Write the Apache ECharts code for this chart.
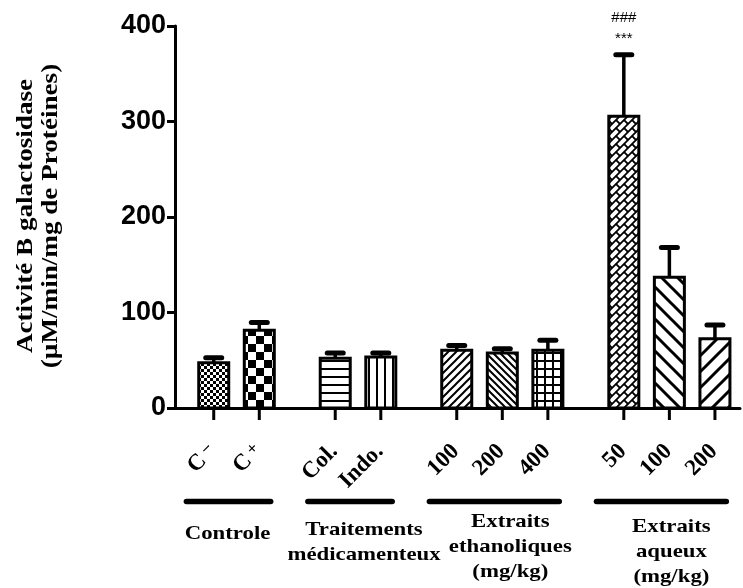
<!DOCTYPE html>
<html><head><meta charset="utf-8">
<script src="https://cdn.jsdelivr.net/npm/echarts@6/dist/echarts.min.js"></script>
<style>html,body{margin:0;padding:0;background:#fff}#c{width:743px;height:588px}</style>
</head><body><div id="c"></div>
<script>
// ---- data ----
const categories = ['C⁻', 'C⁺', 'Col.', 'Indo.', '100', '200', '400', '50', '100', '200'];
const groupOf    = [0, 0, 1, 1, 2, 2, 2, 3, 3, 3];
const groupNames = [
  ['Controle'],
  ['Traitements', 'médicamenteux'],
  ['Extraits', 'ethanoliques', '(mg/kg)'],
  ['Extraits', 'aqueux', '(mg/kg)']
];
const means   = [47.5, 81.5, 52, 53.5, 60.5, 57.5, 60.5, 305.5, 137, 72.5];
const errors  = [5, 8, 5.5, 4, 5, 4.5, 10.5, 64.5, 31, 14.5];
const sigStars = ['', '', '', '', '', '', '', '***', '', ''];
const sigHash  = ['', '', '', '', '', '', '', '###', '', ''];
const yTitle = ['Activité B galactosidase', '(µM/min/mg de Protéines)'];
const yMin = 0, yMax = 400, yStep = 100;

// ---- layout constants (styling) ----
const GROUP_GAP = 2 / 3;
const groupLabelShift = [[-9, 8], [6, 4], [8, -4], [2, 1]];
const pos = categories.map((c, i) => i + groupOf[i] * GROUP_GAP);

// ---- patterns ----
function makeTile(size, draw) {
  const c = document.createElement('canvas');
  c.width = c.height = size;
  const g = c.getContext('2d');
  g.fillStyle = '#fff'; g.fillRect(0, 0, size, size);
  g.fillStyle = '#000'; g.strokeStyle = '#000';
  draw(g, size);
  return c;
}
function diagUp(g, T, w) {
  g.lineWidth = w; g.beginPath();
  [0, T, 2 * T].forEach(c => { g.moveTo(c + 3, -3); g.lineTo(-3, c + 3); });
  g.stroke();
}
function diagDown(g, T, w) {
  g.lineWidth = w; g.beginPath();
  [-T, 0, T].forEach(c => { g.moveTo(c - 3, -3); g.lineTo(c + T + 3, T + 3); });
  g.stroke();
}
const patterns = [
  makeTile(6, g => { g.fillRect(0, 0, 3, 3); g.fillRect(3, 3, 3, 3); }),
  makeTile(16, g => { g.fillRect(0, 0, 8, 8); g.fillRect(8, 8, 8, 8); }),
  makeTile(8, g => { g.fillRect(0, 0, 8, 2); }),
  makeTile(8, g => { g.fillRect(0, 0, 2, 8); }),
  makeTile(8, (g, T) => diagUp(g, T, 2)),
  makeTile(7, (g, T) => diagDown(g, T, 2)),
  makeTile(8, g => { g.fillRect(0, 0, 8, 2); g.fillRect(0, 0, 2, 8); }),
  makeTile(8, (g, T) => {
    diagUp(g, T, 1.8);
    g.lineWidth = 1.8; g.beginPath();
    [-T, 0, T].forEach(dx => [-T, 0, T].forEach(dy => { g.moveTo(dx, dy); g.lineTo(dx + T / 2, dy + T / 2); }));
    g.stroke();
  }),
  makeTile(16, (g, T) => diagDown(g, T, 3)),
  makeTile(16, (g, T) => diagUp(g, T, 3))
];

const SERIF = '"Liberation Serif", "Times New Roman", serif';
const LABFONT = 'bold 23px ' + SERIF;

function labelStyle(s) {
  const m = s.match(/^(.*?)([⁻⁺])$/);
  if (!m) return { text: s, font: LABFONT };
  return {
    text: '{b|' + m[1] + '}{s|' + (m[2] === '⁻' ? '−' : '+') + '}',
    font: LABFONT,
    rich: {
      b: { font: LABFONT, fill: '#000' },
      s: { font: 'bold 17px ' + SERIF, fill: '#000', verticalAlign: 'top', padding: [0, 0, 0, 4] }
    }
  };
}

function renderBar(params, api) {
  const i = api.value(3);
  const x = api.value(0), m = api.value(1), e = api.value(2);
  const b = api.coord([x, 0]), t = api.coord([x, m]), c = api.coord([x, m + e]);
  const lab = labelStyle(categories[i]);
  const ch = [
    { type: 'line', shape: { x1: t[0], y1: t[1], x2: c[0], y2: c[1] }, style: { stroke: '#000', lineWidth: 3.5 } },
    { type: 'line', shape: { x1: c[0] - 8, y1: c[1], x2: c[0] + 8, y2: c[1] }, style: { stroke: '#000', lineWidth: 5, lineCap: 'round' } },
    { type: 'rect', shape: { x: b[0] - 15, y: t[1], width: 30, height: b[1] - t[1] },
      style: { fill: { image: patterns[i], repeat: 'repeat' }, stroke: '#000', lineWidth: 3 } },
    { type: 'line', shape: { x1: b[0], y1: b[1], x2: b[0], y2: b[1] + 12 }, style: { stroke: '#000', lineWidth: 3 } },
    { type: 'text', x: b[0] - 1, y: b[1] + 40, rotation: Math.PI / 4,
      style: Object.assign({ align: 'right', verticalAlign: 'middle', fill: '#000' }, lab) }
  ];
  if (sigStars[i]) ch.push({ type: 'text', x: c[0], y: c[1] - 16,
    style: { text: sigStars[i], font: '15px "Liberation Sans", Arial, sans-serif', align: 'center', verticalAlign: 'middle', fill: '#000' } });
  if (sigHash[i]) ch.push({ type: 'text', x: c[0], y: c[1] - 37,
    style: { text: sigHash[i], font: '15px "Liberation Sans", Arial, sans-serif', align: 'center', verticalAlign: 'middle', fill: '#000' } });
  return { type: 'group', children: ch };
}

function renderGroup(params, api) {
  const g = api.value(3);
  const s = api.coord([api.value(0), 0]), e = api.coord([api.value(1), 0]);
  const l1 = api.coord([api.value(0) - 0.6, 0]), l2 = api.coord([api.value(1) + 0.25, 0]);
  const sh = groupLabelShift[g];
  return { type: 'group', children: [
    { type: 'line', shape: { x1: l1[0], y1: s[1] + 93.5, x2: l2[0], y2: s[1] + 93.5 },
      style: { stroke: '#000', lineWidth: 5.5, lineCap: 'round' } },
    { type: 'text', x: (s[0] + e[0]) / 2 + sh[0], y: s[1] + 105.5 + sh[1], scaleX: 1.2,
      style: { text: groupNames[g].join('\n'), font: 'bold 19px ' + SERIF, align: 'center', verticalAlign: 'top', lineHeight: 25, fill: '#000' } }
  ] };
}

const barData = categories.map((c, i) => [pos[i], means[i], errors[i], i]);
const groupData = groupNames.map((n, g) => {
  const idx = groupOf.map((v, i) => v === g ? i : -1).filter(i => i >= 0);
  return [pos[idx[0]], pos[idx[idx.length - 1]], 0, g];
});

const chart = echarts.init(document.getElementById('c'), null, { renderer: 'canvas' });
chart.setOption({
  animation: false,
  backgroundColor: '#fff',
  grid: { left: 175, right: 3, top: 26, bottom: 180 },
  xAxis: {
    type: 'value', min: -0.85, max: 11.55,
    axisLine: { show: true, lineStyle: { color: '#000', width: 3 } },
    axisTick: { show: false }, axisLabel: { show: false }, splitLine: { show: false }
  },
  yAxis: {
    type: 'value', min: yMin, max: yMax, interval: yStep,
    axisLine: { show: true, onZero: false, lineStyle: { color: '#000', width: 3 } },
    axisTick: { show: true, length: 8, lineStyle: { color: '#000', width: 3 } },
    axisLabel: { color: '#000', fontSize: 27, fontWeight: 'bold', fontFamily: '"Liberation Sans", Arial, sans-serif', margin: 9 },
    splitLine: { show: false }
  },
  graphic: [{
    type: 'text', x: 38, y: 216, rotation: Math.PI / 2, scaleX: 1.13,
    style: { text: yTitle.join('\n'), font: 'bold 24px ' + SERIF, align: 'center', verticalAlign: 'middle', lineHeight: 25, fill: '#000' }
  }],
  series: [
    { type: 'custom', clip: false, renderItem: renderBar, data: barData, encode: { x: 0, y: 1 }, z: 3 },
    { type: 'custom', clip: false, renderItem: renderGroup, data: groupData, encode: { x: 0, y: 2 }, z: 3 }
  ]
});
</script></body></html>
